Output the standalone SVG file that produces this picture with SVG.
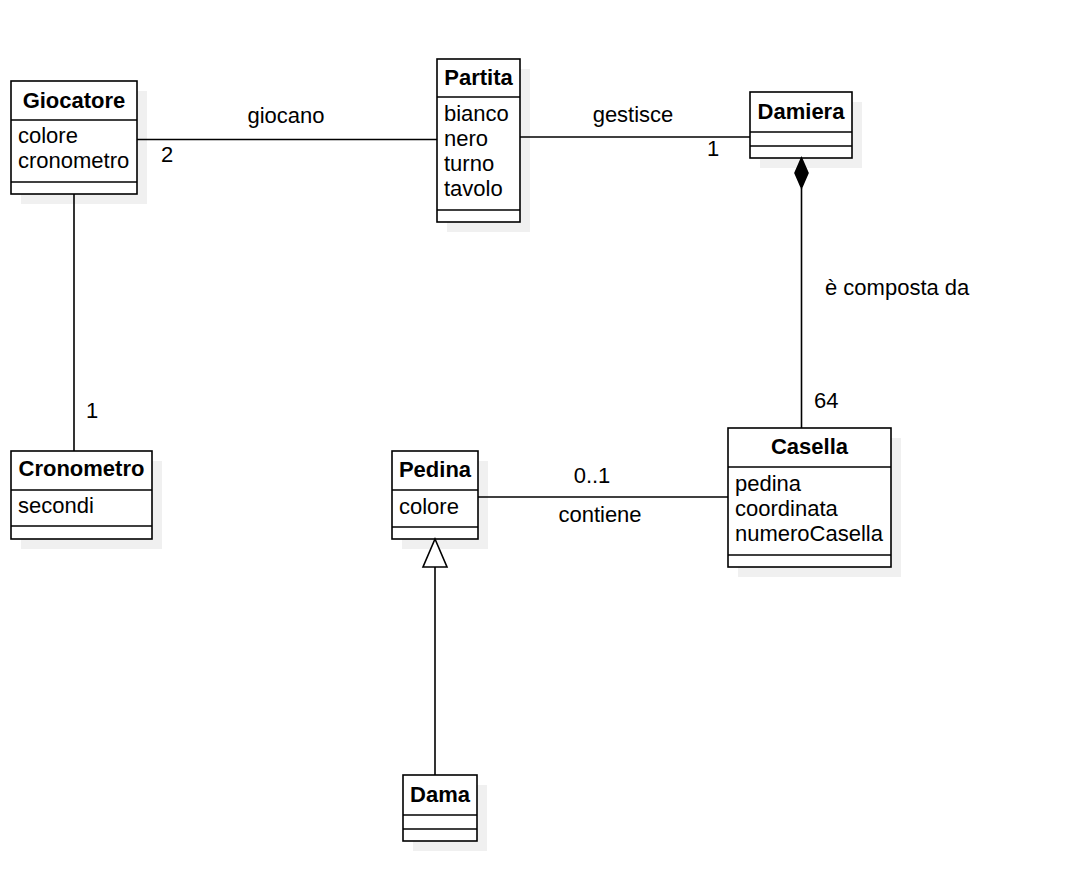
<svg xmlns="http://www.w3.org/2000/svg" width="1071" height="874" viewBox="0 0 1071 874">
<style>
text{font-family:"Liberation Sans",Arial,sans-serif;font-size:22px;fill:#000}
.h{font-weight:bold;text-anchor:middle}
.c{text-anchor:middle}
.box{fill:#fff;stroke:#000;stroke-width:1.6}
.sh{fill:#f0f0f0;stroke:none}
.ln{stroke:#000;stroke-width:1.6;fill:none}
</style>
<rect width="1071" height="874" fill="#fff"/>
<g id="Giocatore">
<rect class="sh" x="21" y="91" width="126" height="113"/>
<rect class="box" x="11" y="81" width="126" height="113"/>
<line class="ln" x1="11" y1="120" x2="137" y2="120"/>
<line class="ln" x1="11" y1="182" x2="137" y2="182"/>
<text class="h" x="74" y="108">Giocatore</text>
<text x="18" y="143">colore</text>
<text x="18" y="168">cronometro</text>
</g>
<g id="Partita">
<rect class="sh" x="447" y="69" width="83" height="163"/>
<rect class="box" x="437" y="59" width="83" height="163"/>
<line class="ln" x1="437" y1="97" x2="520" y2="97"/>
<line class="ln" x1="437" y1="210" x2="520" y2="210"/>
<text class="h" x="478.5" y="85">Partita</text>
<text x="444" y="121">bianco</text>
<text x="444" y="146">nero</text>
<text x="444" y="171">turno</text>
<text x="444" y="196">tavolo</text>
</g>
<g id="Damiera">
<rect class="sh" x="760" y="102" width="102" height="66"/>
<rect class="box" x="750" y="92" width="102" height="66"/>
<line class="ln" x1="750" y1="132" x2="852" y2="132"/>
<line class="ln" x1="750" y1="146" x2="852" y2="146"/>
<text class="h" x="801" y="119">Damiera</text>
</g>
<g id="Cronometro">
<rect class="sh" x="21" y="461" width="141" height="88"/>
<rect class="box" x="11" y="451" width="141" height="88"/>
<line class="ln" x1="11" y1="490" x2="152" y2="490"/>
<line class="ln" x1="11" y1="526" x2="152" y2="526"/>
<text class="h" x="81.5" y="476">Cronometro</text>
<text x="18" y="513">secondi</text>
</g>
<g id="Pedina">
<rect class="sh" x="402" y="461" width="86" height="88"/>
<rect class="box" x="392" y="451" width="86" height="88"/>
<line class="ln" x1="392" y1="490" x2="478" y2="490"/>
<line class="ln" x1="392" y1="527" x2="478" y2="527"/>
<text class="h" x="435" y="477">Pedina</text>
<text x="399" y="514">colore</text>
</g>
<g id="Casella">
<rect class="sh" x="738" y="438" width="163" height="139"/>
<rect class="box" x="728" y="428" width="163" height="139"/>
<line class="ln" x1="728" y1="467" x2="891" y2="467"/>
<line class="ln" x1="728" y1="555" x2="891" y2="555"/>
<text class="h" x="809.5" y="454">Casella</text>
<text x="735" y="490.5">pedina</text>
<text x="735" y="515.5">coordinata</text>
<text x="735" y="541">numeroCasella</text>
</g>
<g id="Dama">
<rect class="sh" x="413" y="785" width="74" height="66"/>
<rect class="box" x="403" y="775" width="74" height="66"/>
<line class="ln" x1="403" y1="815" x2="477" y2="815"/>
<line class="ln" x1="403" y1="829" x2="477" y2="829"/>
<text class="h" x="440" y="802">Dama</text>
</g>
<g id="connectors">
<line class="ln" x1="137" y1="139.5" x2="437" y2="139.5"/>
<text class="c" x="286" y="123">giocano</text>
<text x="161" y="162">2</text>
<line class="ln" x1="520" y1="137" x2="750" y2="137"/>
<text class="c" x="633" y="122">gestisce</text>
<text x="707" y="156">1</text>
<line class="ln" x1="74" y1="194" x2="74" y2="451"/>
<text x="86" y="418">1</text>
<line class="ln" x1="801.5" y1="188" x2="801.5" y2="428"/>
<path d="M801.5 158 L808 173 L801.5 188 L795 173 Z" fill="#000" stroke="#000" stroke-width="1.6"/>
<text x="825" y="295">è composta da</text>
<text x="814" y="408">64</text>
<line class="ln" x1="478" y1="497" x2="728" y2="497"/>
<text class="c" x="592" y="483">0..1</text>
<text class="c" x="600" y="522">contiene</text>
<line class="ln" x1="435" y1="567" x2="435" y2="775"/>
<path d="M435 539 L447 567 L423 567 Z" fill="#fff" stroke="#000" stroke-width="1.6"/>
</g>
</svg>
